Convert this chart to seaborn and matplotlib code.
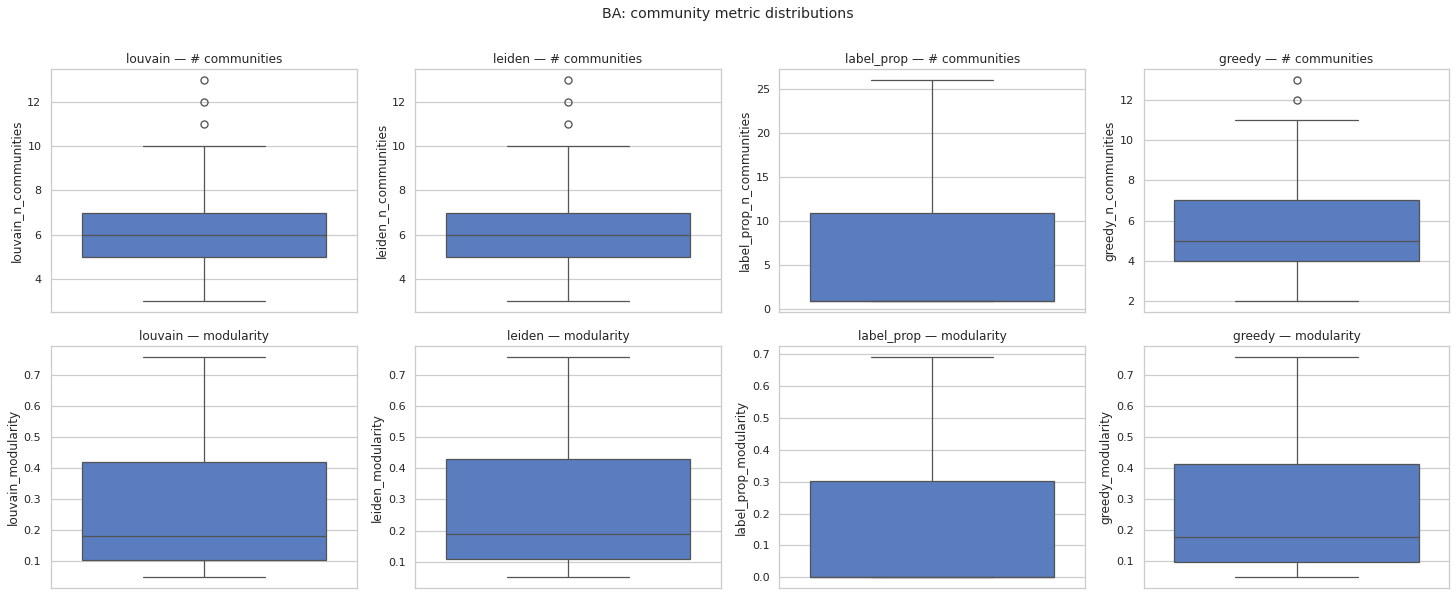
import numpy as np
import pandas as pd
import seaborn as sb
import matplotlib
matplotlib.use("Agg")
import matplotlib.pyplot as plt

methods = ["louvain", "leiden", "label_prop", "greedy"]

# number of communities per run
louvain_n_communities = [3, 4, 5, 5, 5, 6, 6, 6, 6, 7, 7, 7, 7, 10, 11, 12, 13]
leiden_n_communities = [3, 4, 5, 5, 5, 6, 6, 6, 6, 7, 7, 7, 7, 10, 11, 12, 13]
label_prop_n_communities = [1, 1, 1, 1, 1, 5, 11, 18, 26]
greedy_n_communities = [2, 3, 3, 4, 4, 4, 5, 5, 5, 6, 6, 7, 7, 9, 11, 12, 13]

# modularity per run
louvain_modularity = [0.048, 0.072, 0.103, 0.140, 0.181, 0.300, 0.418, 0.580, 0.757]
leiden_modularity = [0.050, 0.080, 0.107, 0.150, 0.188, 0.310, 0.429, 0.590, 0.757]
label_prop_modularity = [0.0, 0.0, 0.0, 0.0, 0.0, 0.150, 0.303, 0.500, 0.692]
greedy_modularity = [0.049, 0.070, 0.099, 0.140, 0.178, 0.300, 0.415, 0.580, 0.758]

columns = {
    "louvain_n_communities": louvain_n_communities,
    "leiden_n_communities": leiden_n_communities,
    "label_prop_n_communities": label_prop_n_communities,
    "greedy_n_communities": greedy_n_communities,
    "louvain_modularity": louvain_modularity,
    "leiden_modularity": leiden_modularity,
    "label_prop_modularity": label_prop_modularity,
    "greedy_modularity": greedy_modularity,
}

sb.set_theme(style="whitegrid", palette="muted")
plt.rcParams["font.family"] = ["DejaVu Sans"]
plt.rcParams["grid.linewidth"] = 1.2
plt.rcParams["axes.linewidth"] = 1.3

dpi = 72.8
fig, axes = plt.subplots(2, 4, figsize=(1456 / dpi, 595 / dpi), dpi=dpi)

metrics = [("n_communities", "# communities"), ("modularity", "modularity")]
for row, (metric, title) in enumerate(metrics):
    for col, m in enumerate(methods):
        ax = axes[row, col]
        name = m + "_" + metric
        df = pd.DataFrame({name: columns[name]})
        sb.boxplot(data=df, y=name, ax=ax, linewidth=1.25,
                   flierprops={"markersize": 7, "markeredgewidth": 1.3})
        ax.set_title(m + " — " + title)
        ax.set_xlabel("")

fig.suptitle("BA: community metric distributions", fontsize=14, y=0.988)
fig.subplots_adjust(left=0.035, right=0.9954, top=0.8835, bottom=0.0113,
                    wspace=0.192, hspace=0.1415)
fig.savefig("out.png", dpi=dpi)
